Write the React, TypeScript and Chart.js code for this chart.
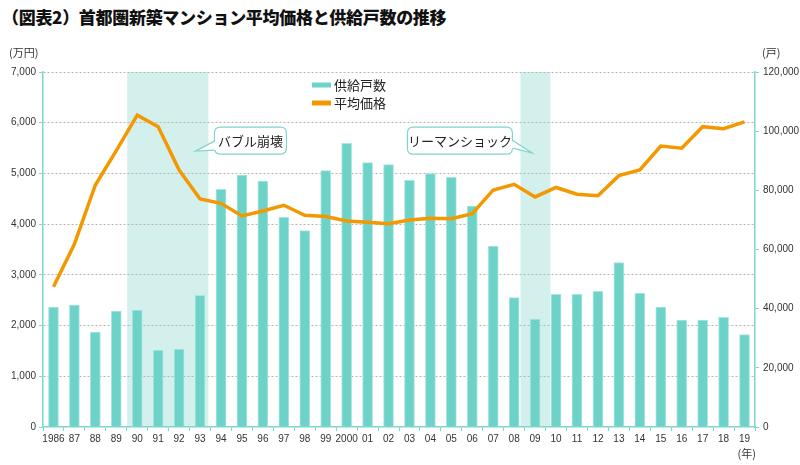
import { useEffect, useRef } from "react";
import { Chart, registerables } from "chart.js";

Chart.register(...registerables);

// 年（カテゴリ）
const years = [
  "1986", "87", "88", "89", "90", "91", "92", "93", "94", "95", "96", "97", "98", "99",
  "2000", "01", "02", "03", "04", "05", "06", "07", "08", "09", "10", "11", "12", "13",
  "14", "15", "16", "17", "18", "19",
];

// 供給戸数（戸）
const supply = [
  40560, 41240, 32110, 39210, 39550, 26030, 26370, 44520, 80350, 85180, 83150, 70880,
  66360, 86640, 95890, 89350, 88670, 83380, 85630, 84390, 74700, 61180, 43720, 36510,
  44840, 44840, 45860, 55550, 45180, 40560, 36170, 36170, 37070, 31200,
];

// 平均価格（万円）
const price = [
  2767, 3609, 4772, 5450, 6150, 5920, 5068, 4496, 4411, 4161, 4260, 4372, 4174, 4150,
  4062, 4037, 4009, 4082, 4115, 4108, 4206, 4674, 4786, 4536, 4723, 4589, 4561, 4956,
  5068, 5541, 5496, 5922, 5882, 6015,
];

const priceMax = 7000;
const priceStep = 1000;
const supplyMax = 120000;
const supplyStep = 20000;

// 網掛け期間（カテゴリ位置）
const shadeRanges = [
  [3.52, 7.4],
  [22.3, 23.73],
];

const TEAL = "#6dd3c9";
const ORANGE = "#f39800";
const AXIS = "#7fd6cd";
const NUM_FONT = '"Liberation Sans", Arial, sans-serif';
const JP_FONT = '"Noto Sans CJK JP", "Noto Sans", sans-serif';

function roundRect(ctx: CanvasRenderingContext2D, x: number, y: number, w: number, h: number, r: number) {
  ctx.beginPath();
  ctx.moveTo(x + r, y);
  ctx.lineTo(x + w - r, y);
  ctx.quadraticCurveTo(x + w, y, x + w, y + r);
  ctx.lineTo(x + w, y + h - r);
  ctx.quadraticCurveTo(x + w, y + h, x + w - r, y + h);
  ctx.lineTo(x + r, y + h);
  ctx.quadraticCurveTo(x, y + h, x, y + h - r);
  ctx.lineTo(x, y + r);
  ctx.quadraticCurveTo(x, y, x + r, y);
  ctx.closePath();
}

function callout(
  ctx: CanvasRenderingContext2D,
  text: string,
  box: { x: number; y: number; w: number; h: number },
  base: [number, number, number, number],
  tip: { x: number; y: number }
) {
  ctx.save();
  ctx.lineWidth = 1.2;
  ctx.strokeStyle = AXIS;
  ctx.fillStyle = "#fff";
  roundRect(ctx, box.x, box.y, box.w, box.h, 6);
  ctx.fill();
  ctx.stroke();
  const [bx1, by1, bx2, by2] = base;
  const inward = tip.x < box.x ? 1.5 : -1.5;
  ctx.beginPath();
  ctx.moveTo(bx1 + inward, by1);
  ctx.lineTo(tip.x, tip.y);
  ctx.lineTo(bx2 + inward, by2);
  ctx.closePath();
  ctx.fill();
  ctx.beginPath();
  ctx.moveTo(bx1, by1);
  ctx.lineTo(tip.x, tip.y);
  ctx.lineTo(bx2, by2);
  ctx.stroke();
  ctx.fillStyle = "#222";
  ctx.font = `13px ${JP_FONT}`;
  ctx.textAlign = "center";
  ctx.textBaseline = "middle";
  ctx.fillText(text, box.x + box.w / 2, box.y + box.h / 2 + 0.5);
  ctx.restore();
}

const decorPlugin = {
  id: "decor",
  beforeDraw(chart: any) {
    const { ctx, chartArea, scales } = chart;
    ctx.save();
    ctx.fillStyle = "#d3f0ed";
    for (const [a, b] of shadeRanges) {
      const x1 = scales.x.getPixelForValue(a);
      const x2 = scales.x.getPixelForValue(b);
      ctx.fillRect(x1, chartArea.top, x2 - x1, chartArea.bottom - chartArea.top);
    }
    ctx.restore();
  },
  afterDraw(chart: any) {
    const { ctx, chartArea, scales } = chart;
    ctx.save();

    // 単位
    ctx.fillStyle = "#333";
    ctx.font = `11px ${JP_FONT}`;
    ctx.textBaseline = "middle";
    ctx.textAlign = "left";
    ctx.fillText("(万円)", 9, chartArea.top - 19);
    ctx.fillText("(戸)", chartArea.right + 7, chartArea.top - 19);
    ctx.textAlign = "right";
    ctx.fillText("(年)", chartArea.right + 1, chartArea.bottom + 27);

    // 凡例
    const lx = chartArea.left + 269;
    const ly = chartArea.top + 13;
    const items: [string, string][] = [
      ["供給戸数", TEAL],
      ["平均価格", ORANGE],
    ];
    items.forEach(([label, color], i) => {
      const y = ly + i * 18;
      ctx.fillStyle = color;
      ctx.fillRect(lx, y - 2.5, 19, 5);
      ctx.fillStyle = "#222";
      ctx.font = `13px ${JP_FONT}`;
      ctx.textAlign = "left";
      ctx.fillText(label, lx + 22, y);
    });
    ctx.restore();

    // 吹き出し
    const t1 = { x: scales.x.getPixelForValue(6.78), y: scales.y.getPixelForValue(5440) };
    const b1 = { x: t1.x + 19, y: t1.y - 24, w: 72, h: 27 };
    callout(ctx, "バブル崩壊", b1, [b1.x, t1.y - 10, b1.x, t1.y - 1], t1);

    const t2 = { x: scales.x.getPixelForValue(22.87), y: scales.y.getPixelForValue(5400) };
    const b2 = { x: t2.x - 20 - 105, y: t2.y - 26, w: 105, h: 27 };
    callout(ctx, "リーマンショック", b2, [b2.x + b2.w, t2.y - 13, b2.x + b2.w, t2.y - 5], t2);
  },
};

export default function App() {
  const canvasRef = useRef<HTMLCanvasElement>(null);
  const chartRef = useRef<Chart | null>(null);

  useEffect(() => {
    if (!canvasRef.current) return;
    const ctx = canvasRef.current.getContext("2d");
    if (!ctx) return;

    if (chartRef.current) chartRef.current.destroy();

    const numTicks = {
      color: "#333",
      font: { family: NUM_FONT, size: 10 },
    };

    chartRef.current = new Chart(ctx, {
      type: "bar",
      data: {
        labels: years,
        datasets: [
          {
            type: "line",
            label: "平均価格",
            data: price,
            yAxisID: "y",
            borderColor: ORANGE,
            borderWidth: 3.5,
            pointRadius: 0,
            tension: 0,
            order: 0,
          },
          {
            type: "bar",
            label: "供給戸数",
            data: supply,
            yAxisID: "y2",
            backgroundColor: TEAL,
            borderColor: "#a9e6df",
            borderWidth: 1,
            barThickness: 10,
            order: 1,
          },
        ] as any,
      },
      options: {
        animation: false,
        responsive: true,
        maintainAspectRatio: false,
        layout: { padding: { top: 72, left: 0, right: 0, bottom: 0 } },
        plugins: {
          legend: { display: false },
          tooltip: { enabled: false },
        },
        scales: {
          x: {
            offset: true,
            grid: {
              offset: true,
              drawOnChartArea: false,
              tickLength: 4,
              tickColor: AXIS,
            },
            border: { color: AXIS, width: 1.5 },
            ticks: { ...numTicks, autoSkip: false, maxRotation: 0, padding: 2 },
            afterFit: (s: any) => {
              s.height = 38;
            },
          },
          y: {
            position: "left",
            min: 0,
            max: priceMax,
            grid: {
              color: (c: any) => (c.tick && c.tick.value === 0 ? "rgba(0,0,0,0)" : "#b5b5b5"),
              tickColor: AXIS,
              tickLength: 4,
              lineWidth: 1,
            },
            border: { color: AXIS, width: 1.5, dash: [2, 2] },
            ticks: {
              ...numTicks,
              stepSize: priceStep,
              padding: 3,
              callback: (v: any) => Number(v).toLocaleString("en-US"),
            },
            afterFit: (s: any) => {
              s.width = 43;
            },
          },
          y2: {
            position: "right",
            min: 0,
            max: supplyMax,
            grid: {
              drawOnChartArea: false,
              tickColor: AXIS,
              tickLength: 4,
            },
            border: { color: AXIS, width: 1.5 },
            ticks: {
              ...numTicks,
              stepSize: supplyStep,
              padding: 4,
              callback: (v: any) => Number(v).toLocaleString("en-US"),
            },
            afterFit: (s: any) => {
              s.width = 45;
            },
          },
        },
      },
      plugins: [decorPlugin],
    });

    return () => {
      if (chartRef.current) {
        chartRef.current.destroy();
        chartRef.current = null;
      }
    };
  }, []);

  return (
    <div
      style={{
        position: "absolute",
        left: 0,
        top: 0,
        width: 800,
        height: 465,
        background: "#fff",
        overflow: "hidden",
      }}
    >
      <div
        style={{
          position: "absolute",
          left: 2,
          top: 6,
          fontFamily: JP_FONT,
          fontWeight: 900,
          fontSize: 17,
          lineHeight: "22px",
          color: "#111",
          whiteSpace: "nowrap",
          letterSpacing: "-0.3px",
        }}
      >
        （図表2）首都圏新築マンション平均価格と供給戸数の推移
      </div>
      <div style={{ position: "absolute", left: 0, top: 0, width: 800, height: 465 }}>
        <canvas ref={canvasRef}></canvas>
      </div>
    </div>
  );
}
